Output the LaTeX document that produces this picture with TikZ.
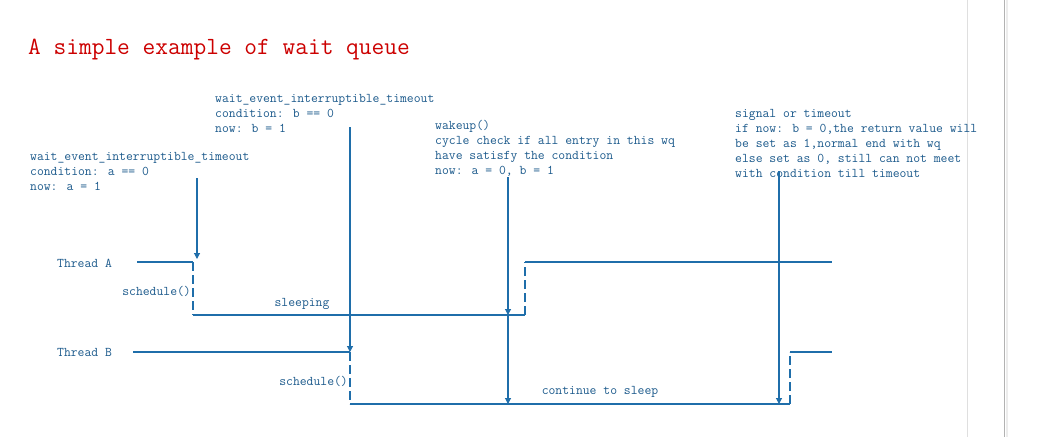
\documentclass[tikz,border=0pt]{standalone}
\usepackage{fontspec}
\usepackage{tikz}
\usetikzlibrary{arrows.meta,positioning}
\definecolor{wqline}{RGB}{31,110,170}
\definecolor{wqtext}{RGB}{28,90,140}
\definecolor{wqtitle}{RGB}{204,0,0}
\tikzset{
	wqlabel/.style={font=\ttfamily\fontsize{13.3}{15}\selectfont, text=wqtext, inner sep=0pt, align=left},
	wqnote/.style={wqlabel, anchor=north west},
	wqrun/.style={draw=wqline, line width=1.1pt},
	wqsleep/.style={draw=wqline, line width=1.1pt, dash pattern=on 9pt off 4pt},
	wqarrow/.style={draw=wqline, line width=1.1pt, -{Triangle[width=6pt,length=6pt]}},
}

\begin{document}
\begin{tikzpicture}[x=1pt,y=-1pt]
		\useasboundingbox (0,0) rectangle (1051,437);
		\fill[white] (0,0) rectangle (1051,437);
		\draw[gray!25, line width=0.8pt] (967,0) -- (967,437);
		\draw[gray!60, line width=1.2pt] (1004.5,0) -- (1004.5,437);
		\draw[gray!15, line width=2pt] (1006.5,0) -- (1006.5,437);

		\node[anchor=base west, inner sep=0pt, text=wqtitle, font=\ttfamily\fontsize{24.7}{28}\selectfont] (title) at (28,54) {A simple example of wait queue};

		\node[wqnote] (waitA) at (30,152) {wait\_event\_interruptible\_timeout\\condition: a == 0\\now: a = 1};
		\node[wqnote] (waitB) at (215,94) {wait\_event\_interruptible\_timeout\\condition: b == 0\\now: b = 1};
		\node[wqnote] (wakeup) at (435,120) {wakeup()\\cycle check if all entry in this wq\\have satisfy the condition\\now: a = 0, b = 1};
		\node[wqnote] (signal) at (735,109) {signal or timeout\\if now: b = 0,the return value will\\be set as 1,normal end with wq\\else set as 0, still can not meet\\with condition till timeout};

		\node[wqlabel, anchor=west] (threadA) at (57,263) {Thread A};
		\node[wqlabel, anchor=west] (threadB) at (57,352) {Thread B};
		\node[wqlabel, anchor=east] (schedA) at (191,291) {schedule()};
		\node[wqlabel] (sleepA) at (302,304) {sleeping};
		\node[wqlabel, anchor=east] (schedB) at (348,381) {schedule()};
		\node[wqlabel] (sleepB) at (600,392) {continue to sleep};

		\coordinate (A0) at (137,262);
		\coordinate (A1) at (193,262);
		\coordinate (A2) at (193,315);
		\coordinate (A3) at (525,315);
		\coordinate (A4) at (525,262);
		\coordinate (A5) at (832,262);
		\coordinate (B0) at (133,352);
		\coordinate (B1) at (350,352);
		\coordinate (B2) at (350,404);
		\coordinate (B3) at (790,404);
		\coordinate (B4) at (790,352);
		\coordinate (B5) at (832,352);

		\draw[wqrun] (A0) -- (A1);
		\draw[wqsleep] (A1) -- (A2);
		\draw[wqrun] (A2) -- (A3);
		\draw[wqsleep] (A3) -- (A4);
		\draw[wqrun] (A4) -- (A5);

		\draw[wqrun] (B0) -- (B1);
		\draw[wqsleep] (B1) -- (B2);
		\draw[wqrun] (B2) -- (B3);
		\draw[wqsleep] (B3) -- (B4);
		\draw[wqrun] (B4) -- (B5);

		\coordinate (waitAtop) at (197,178);
		\coordinate (waitAend) at (197,259);
		\coordinate (waitBtop) at (350,127);
		\coordinate (wakeuptop) at (508,177);
		\coordinate (wakeupA) at (508,315);
		\coordinate (wakeupB) at (508,404);
		\coordinate (signaltop) at (779,171);
		\coordinate (signalB) at (779,404);

		\draw[wqarrow] (waitAtop) -- (waitAend);
		\draw[wqarrow] (waitBtop) -- (B1);
		\draw[wqarrow] (wakeuptop) -- (wakeupA);
		\draw[wqarrow] (wakeupA) -- (wakeupB);
		\draw[wqarrow] (signaltop) -- (signalB);
	\end{tikzpicture}
\end{document}
